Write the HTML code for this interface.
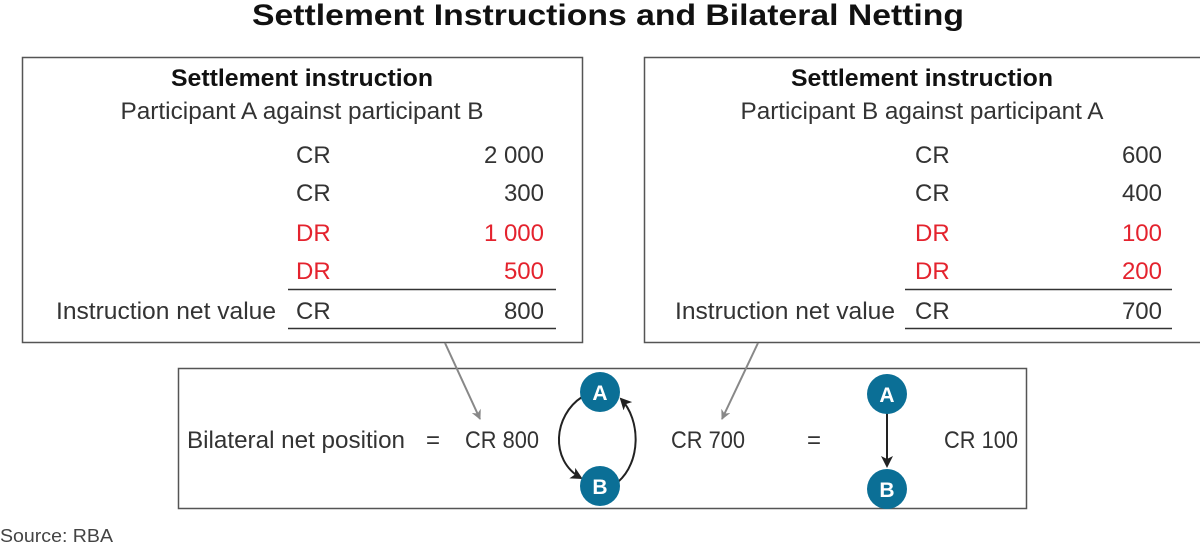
<!DOCTYPE html>
<html><head><meta charset="utf-8"><style>
html,body{margin:0;padding:0;background:#fff;}
svg{display:block;}
text{font-family:"Liberation Sans",sans-serif;fill:#333;}
.r{fill:#e4232e;}
.t{font-size:24px;}
.w{fill:#fff;font-weight:bold;font-size:21px;}
</style></head><body>
<svg width="1200" height="544" viewBox="0 0 1200 544" xmlns="http://www.w3.org/2000/svg">
<defs>
<marker id="ga" markerWidth="10" markerHeight="10" refX="9" refY="5" orient="auto" markerUnits="userSpaceOnUse"><path d="M0,0 L10,5 L0,10 L3,5 z" fill="#888"/></marker>
<marker id="ka" markerWidth="12" markerHeight="12" refX="10" refY="6" orient="auto" markerUnits="userSpaceOnUse"><path d="M0,0 L12,6 L0,12 L3,6 z" fill="#222"/></marker>
</defs>
<text x="608" y="25" text-anchor="middle" style="font-size:30px;font-weight:bold;fill:#111" textLength="712" lengthAdjust="spacingAndGlyphs">Settlement Instructions and Bilateral Netting</text>

<rect x="22.5" y="57.5" width="560" height="285" fill="none" stroke="#555" stroke-width="1.5"/>
<text x="302" y="86" text-anchor="middle" style="font-size:24px;font-weight:bold;fill:#111" textLength="262" lengthAdjust="spacingAndGlyphs">Settlement instruction</text>
<text x="302" y="119" text-anchor="middle" class="t" textLength="363" lengthAdjust="spacingAndGlyphs">Participant A against participant B</text>
<text x="296" y="163" class="t">CR</text><text x="544" y="163" text-anchor="end" class="t">2 000</text>
<text x="296" y="201" class="t">CR</text><text x="544" y="201" text-anchor="end" class="t">300</text>
<text x="296" y="241" class="t r">DR</text><text x="544" y="241" text-anchor="end" class="t r">1 000</text>
<text x="296" y="279" class="t r">DR</text><text x="544" y="279" text-anchor="end" class="t r">500</text>
<line x1="288" y1="289.5" x2="556" y2="289.5" stroke="#333" stroke-width="1.5"/>
<text x="276" y="319" text-anchor="end" class="t" textLength="220" lengthAdjust="spacingAndGlyphs">Instruction net value</text>
<text x="296" y="319" class="t">CR</text><text x="544" y="319" text-anchor="end" class="t">800</text>
<line x1="288" y1="328.5" x2="556" y2="328.5" stroke="#333" stroke-width="1.5"/>

<rect x="644.5" y="57.5" width="560" height="285" fill="none" stroke="#555" stroke-width="1.5"/>
<text x="922" y="86" text-anchor="middle" style="font-size:24px;font-weight:bold;fill:#111" textLength="262" lengthAdjust="spacingAndGlyphs">Settlement instruction</text>
<text x="922" y="119" text-anchor="middle" class="t" textLength="363" lengthAdjust="spacingAndGlyphs">Participant B against participant A</text>
<text x="915" y="163" class="t">CR</text><text x="1162" y="163" text-anchor="end" class="t">600</text>
<text x="915" y="201" class="t">CR</text><text x="1162" y="201" text-anchor="end" class="t">400</text>
<text x="915" y="241" class="t r">DR</text><text x="1162" y="241" text-anchor="end" class="t r">100</text>
<text x="915" y="279" class="t r">DR</text><text x="1162" y="279" text-anchor="end" class="t r">200</text>
<line x1="905" y1="289.5" x2="1172" y2="289.5" stroke="#333" stroke-width="1.5"/>
<text x="895" y="319" text-anchor="end" class="t" textLength="220" lengthAdjust="spacingAndGlyphs">Instruction net value</text>
<text x="915" y="319" class="t">CR</text><text x="1162" y="319" text-anchor="end" class="t">700</text>
<line x1="905" y1="328.5" x2="1172" y2="328.5" stroke="#333" stroke-width="1.5"/>

<rect x="178.5" y="368.5" width="848" height="140" fill="none" stroke="#555" stroke-width="1.5"/>
<line x1="445" y1="343" x2="480" y2="419" stroke="#888" stroke-width="2" marker-end="url(#ga)"/>
<line x1="758" y1="343" x2="722" y2="419" stroke="#888" stroke-width="2" marker-end="url(#ga)"/>
<text x="187" y="448" class="t" textLength="218" lengthAdjust="spacingAndGlyphs">Bilateral net position</text>
<text x="433" y="448" text-anchor="middle" class="t">=</text>
<text x="465" y="448" class="t" textLength="74" lengthAdjust="spacingAndGlyphs">CR 800</text>
<path d="M582,397 C554,415 549,460 581,478" fill="none" stroke="#222" stroke-width="2" marker-end="url(#ka)"/>
<path d="M618,482 C641,462 641,420 621,399" fill="none" stroke="#222" stroke-width="2" marker-end="url(#ka)"/>
<circle cx="600" cy="392" r="20" fill="#0b6f96"/><text x="600" y="400" text-anchor="middle" class="w">A</text>
<circle cx="600" cy="486" r="20" fill="#0b6f96"/><text x="600" y="494" text-anchor="middle" class="w">B</text>
<text x="671" y="448" class="t" textLength="74" lengthAdjust="spacingAndGlyphs">CR 700</text>
<text x="814" y="448" text-anchor="middle" class="t">=</text>
<line x1="887" y1="413" x2="887" y2="466" stroke="#222" stroke-width="2" marker-end="url(#ka)"/>
<circle cx="887" cy="394" r="20" fill="#0b6f96"/><text x="887" y="402" text-anchor="middle" class="w">A</text>
<circle cx="887" cy="489" r="20" fill="#0b6f96"/><text x="887" y="497" text-anchor="middle" class="w">B</text>
<text x="944" y="448" class="t" textLength="74" lengthAdjust="spacingAndGlyphs">CR 100</text>

<text x="0" y="542" style="font-size:18px;fill:#444" textLength="113" lengthAdjust="spacingAndGlyphs">Source: RBA</text>
</svg>
</body></html>
